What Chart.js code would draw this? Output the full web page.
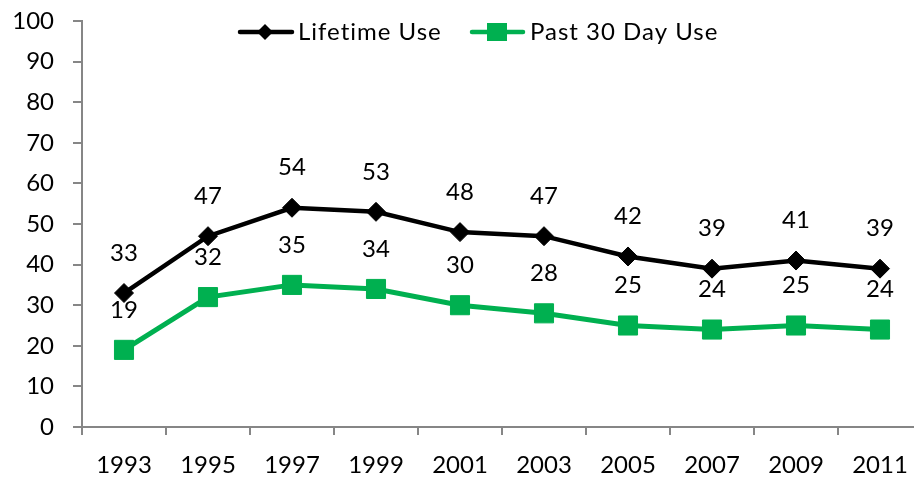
<!DOCTYPE html>
<html>
<head>
<meta charset="utf-8">
<script src="https://cdn.jsdelivr.net/npm/chart.js@4/dist/chart.umd.min.js"></script>
<style>
  html, body { margin: 0; padding: 0; background: #fff; overflow: hidden; }
  #c { display: block; }
</style>
</head>
<body>
<canvas id="c" width="924" height="478" style="width:924px;height:478px"></canvas>
<script>
const years = ["1993","1995","1997","1999","2001","2003","2005","2007","2009","2011"];
const lifetimeUse = [33, 47, 54, 53, 48, 47, 42, 39, 41, 39];
const past30DayUse = [19, 32, 35, 34, 30, 28, 25, 24, 25, 24];
const seriesNames = ["Lifetime Use", "Past 30 Day Use"];
const yTicks = [0, 10, 20, 30, 40, 50, 60, 70, 80, 90, 100];

const FONT = "Lato, 'Open Sans', sans-serif";
const BLACK = "#000000";
const GREEN = "#00B050";
const AXIS = "#868686";

const labelPlugin = {
  id: 'valueLabels',
  afterDatasetsDraw(chart) {
    const ctx = chart.ctx;
    ctx.save();
    ctx.font = "24px " + FONT;
    ctx.fillStyle = "#000";
    ctx.textAlign = "center";
    ctx.textBaseline = "middle";
    chart.data.datasets.forEach((ds, i) => {
      const meta = chart.getDatasetMeta(i);
      meta.data.forEach((pt, j) => {
        ctx.fillText(String(ds.data[j]), pt.x, pt.y - 40);
      });
    });
    ctx.restore();
  }
};

const legendPlugin = {
  id: 'customLegend',
  afterDraw(chart) {
    const ctx = chart.ctx;
    ctx.save();
    const y = 32;
    // Lifetime
    ctx.strokeStyle = BLACK; ctx.lineWidth = 4.5; ctx.lineCap = "round";
    ctx.beginPath(); ctx.moveTo(240, y); ctx.lineTo(292, y); ctx.stroke();
    ctx.fillStyle = BLACK;
    ctx.beginPath();
    ctx.moveTo(265, y - 8); ctx.lineTo(273, y); ctx.lineTo(265, y + 8); ctx.lineTo(257, y);
    ctx.closePath(); ctx.fill();
    // Past 30
    ctx.strokeStyle = GREEN;
    ctx.beginPath(); ctx.moveTo(472, y); ctx.lineTo(523, y); ctx.stroke();
    ctx.fillStyle = GREEN;
    ctx.fillRect(487, y - 9, 20, 18);
    ctx.fillStyle = "#000";
    ctx.font = "24px " + FONT;
    if ('letterSpacing' in ctx) ctx.letterSpacing = "1px";
    ctx.textAlign = "left"; ctx.textBaseline = "middle";
    ctx.fillText(seriesNames[0], 298, y);
    ctx.fillText(seriesNames[1], 530, y);
    ctx.restore();
  }
};

new Chart(document.getElementById('c'), {
  type: 'line',
  data: {
    labels: years,
    datasets: [
      {
        label: seriesNames[0],
        data: lifetimeUse,
        borderColor: BLACK,
        backgroundColor: BLACK,
        borderWidth: 4.5,
        pointStyle: 'rectRot',
        pointRadius: 9.5,
        pointBorderWidth: 1,
        pointBackgroundColor: BLACK,
        pointBorderColor: BLACK,
        tension: 0
      },
      {
        label: seriesNames[1],
        data: past30DayUse,
        borderColor: GREEN,
        backgroundColor: GREEN,
        borderWidth: 5,
        pointStyle: 'rect',
        pointRadius: 13.5,
        pointBorderWidth: 1,
        pointBackgroundColor: GREEN,
        pointBorderColor: GREEN,
        tension: 0
      }
    ]
  },
  options: {
    responsive: false,
    animation: false,
    devicePixelRatio: 1,
    layout: { autoPadding: false, padding: { top: 21, right: 2, left: 0, bottom: 0 } },
    plugins: { legend: { display: false }, tooltip: { enabled: false } },
    scales: {
      x: {
        offset: true,
        grid: { display: true, offset: true, drawOnChartArea: false, drawTicks: true, tickLength: 8, color: AXIS, lineWidth: 2 },
        border: { display: true, color: AXIS, width: 2 },
        ticks: { color: '#000', font: { family: FONT, size: 24 }, padding: 16, maxRotation: 0, autoSkip: false },
        afterFit(scale) { scale.height = 51; scale.paddingLeft = 0; scale.paddingRight = 0; }
      },
      y: {
        min: 0, max: 100,
        afterBuildTicks(scale) { scale.ticks = yTicks.map(v => ({ value: v })); },
        grid: { display: true, drawOnChartArea: false, drawTicks: true, tickLength: 9, color: AXIS, lineWidth: 2 },
        border: { display: true, color: AXIS, width: 2 },
        ticks: { color: '#000', font: { family: FONT, size: 24 }, padding: 19 },
        afterFit(scale) { scale.width = 82; scale.paddingTop = 0; scale.paddingBottom = 0; }
      }
    }
  },
  plugins: [labelPlugin, legendPlugin]
});
</script>
</body>
</html>
